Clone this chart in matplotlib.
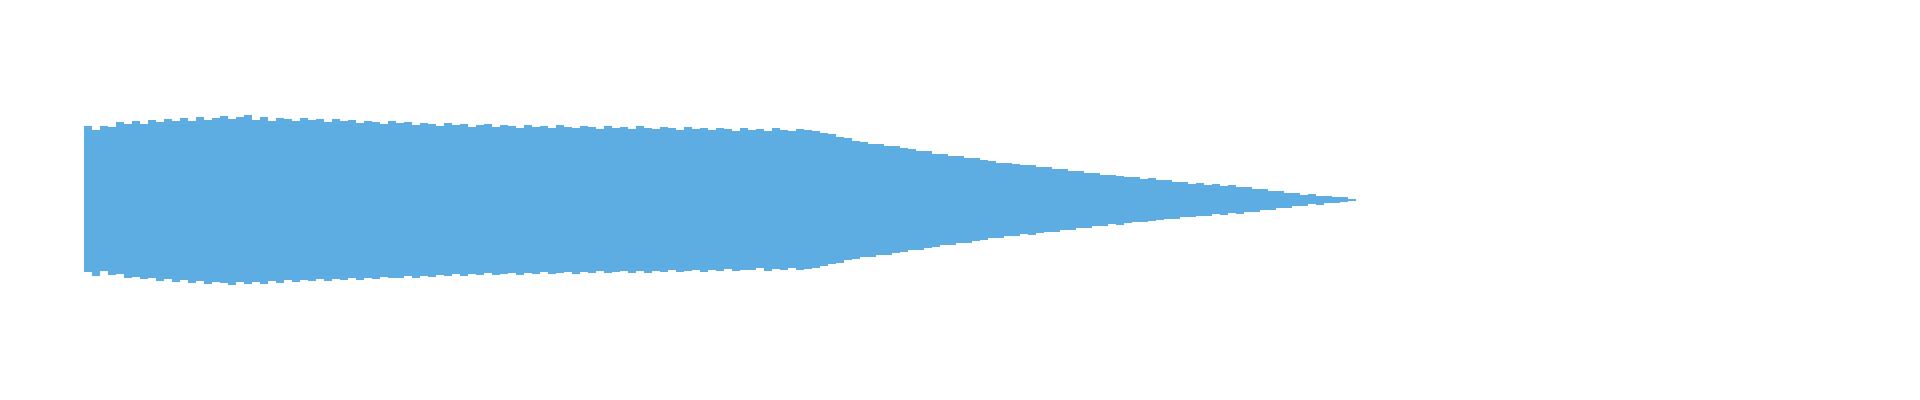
# Waveform overview (peak envelope per 0.1 s block)
import numpy as np
import matplotlib
matplotlib.use("Agg")
import matplotlib.pyplot as plt

# Data: positive / negative peak level per 0.1 s block (amplitude units, full scale = 200)
block_sec = 0.1
peak_pos = [
    74, 70, 74, 73, 78, 76, 79, 76, 80, 78,
    81, 79, 82, 79, 83, 80, 82, 84, 81, 83,
    85, 80, 83, 79, 82, 81, 79, 82, 80, 81,
    78, 81, 79, 80, 77, 79, 78, 76, 79, 77,
    78, 75, 77, 76, 74, 77, 75, 76, 73, 75,
    76, 73, 75, 74, 72, 75, 73, 74, 72, 75,
    73, 72, 74, 73, 71, 74, 72, 73, 71, 74,
    72, 71, 73, 72, 70, 73, 71, 72, 70, 72,
    71, 69, 72, 70, 71, 69, 72, 70, 69, 71,
    70, 69, 67, 66, 63, 62, 59, 58, 56, 56,
    54, 54, 52, 51, 49, 49, 46, 46, 44, 44,
    42, 42, 40, 39, 37, 37, 36, 35, 35, 33,
    33, 31, 31, 29, 29, 27, 27, 25, 25, 24,
    23, 23, 21, 22, 20, 20, 18, 18, 16, 17,
    15, 16, 14, 15, 13, 13, 11, 11, 9, 9,
    7, 7, 5, 6, 4, 4, 3, 3, 1,
]
peak_neg = [
    72, 76, 71, 75, 74, 78, 77, 79, 78, 81,
    79, 82, 80, 83, 81, 84, 82, 83, 85, 82,
    84, 82, 84, 81, 83, 80, 82, 80, 81, 79,
    81, 79, 80, 78, 80, 78, 79, 77, 78, 78,
    76, 78, 76, 77, 75, 76, 74, 76, 74, 75,
    73, 75, 74, 73, 75, 73, 74, 72, 74, 73,
    72, 74, 72, 73, 71, 73, 72, 71, 73, 71,
    73, 71, 72, 70, 72, 71, 70, 72, 70, 71,
    69, 71, 70, 70, 68, 71, 69, 70, 68, 70,
    69, 68, 66, 64, 63, 60, 59, 57, 57, 55,
    55, 53, 52, 50, 50, 48, 47, 45, 45, 43,
    43, 41, 40, 38, 38, 36, 36, 34, 35, 33,
    32, 32, 30, 30, 28, 28, 26, 26, 24, 25,
    23, 22, 22, 21, 20, 19, 19, 17, 17, 16,
    16, 14, 15, 13, 14, 12, 12, 10, 10, 8,
    8, 6, 6, 4, 5, 3, 3, 2, 1,
]

wave_color = "#5DADE2"


def main():
    top = np.array(peak_pos, dtype=float)
    bot = np.array(peak_neg, dtype=float)
    t = np.arange(len(top)) * block_sec + block_sec / 2

    fig = plt.figure(figsize=(19.2, 4.0), dpi=100)
    ax = fig.add_axes([0, 0, 1, 1])
    ax.bar(t, top + bot, bottom=-bot, width=block_sec, color=wave_color,
           linewidth=0, align="center")

    # timeline: track starts 84 px in, 80 px per second
    ax.set_xlim(-1.05, 22.95)
    ax.set_ylim(-200, 200)
    ax.axis("off")

    fig.savefig("out.png", dpi=100, facecolor="white")


if __name__ == "__main__":
    main()
